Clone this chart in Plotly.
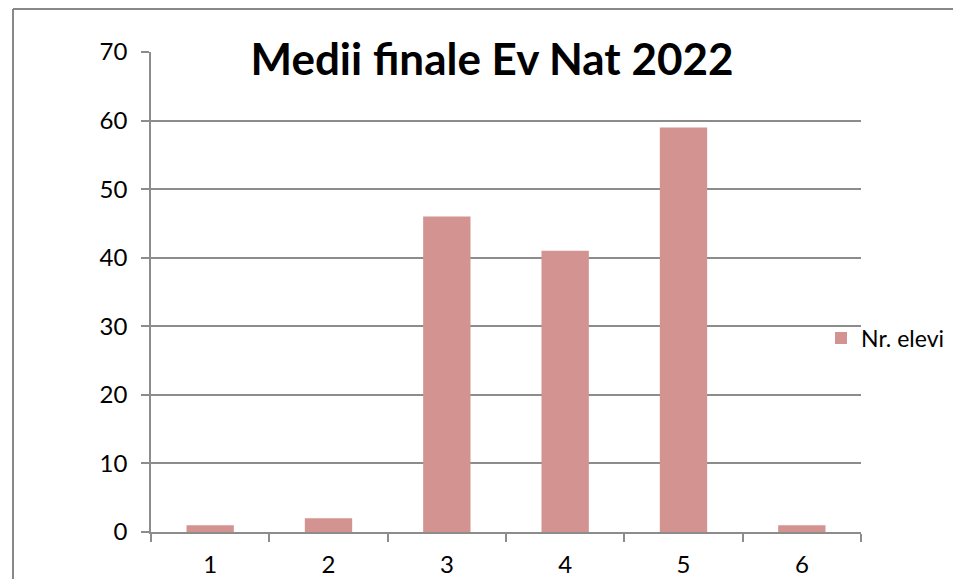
import plotly.graph_objects as go

categories = ["1", "2", "3", "4", "5", "6"]
nr_elevi = [1, 2, 46, 41, 59, 1]
y_ticks = [0, 10, 20, 30, 40, 50, 60, 70]

FONT = "Lato"
GRAY = "#8c8c8c"

fig = go.Figure()
fig.add_trace(go.Bar(x=categories, y=nr_elevi, name="Nr. elevi",
                     marker=dict(color="#d29391", line=dict(width=0))))

L, R, T, B = 151, 92, 52, 47
W, H = 953, 579
pw, ph = W - L - R, H - T - B

def px_x(x):
    return (x - L) / pw

def px_y(y):
    return (H - B - y) / ph

fig.update_layout(
    width=W, height=H,
    margin=dict(l=L, r=R, t=T, b=B, autoexpand=False),
    paper_bgcolor="white", plot_bgcolor="white",
    font=dict(family=FONT, size=24, color="black"),
    bargap=0.6,
    showlegend=True,
    legend=dict(x=px_x(821), y=px_y(338), xanchor="left", yanchor="middle",
                font=dict(family=FONT, size=23), bgcolor="rgba(0,0,0,0)",
                itemwidth=30, tracegroupgap=0),
    title=dict(text="<b>Medii finale Ev Nat 2022</b>", x=px_x(492), xref="paper",
               xanchor="center", y=1 - 60 / H, yanchor="middle",
               font=dict(family=FONT, size=44, color="black")),
    xaxis=dict(type="category", tickson="boundaries", ticks="outside", ticklen=8,
               tickcolor=GRAY, tickwidth=1.5, showline=True, linecolor=GRAY, linewidth=1.5,
               showgrid=False, ticklabelstandoff=10, range=[-0.5, 5.5],
               tickfont=dict(family=FONT, size=24)),
    yaxis=dict(range=[0, 70], tickvals=y_ticks, ticks="outside", ticklen=8,
               tickcolor=GRAY, tickwidth=1.5, showline=True, linecolor=GRAY, linewidth=1.5,
               showgrid=True, gridcolor=GRAY, gridwidth=1.5, zeroline=False,
               ticklabelstandoff=9, tickfont=dict(family=FONT, size=24)),
    shapes=[
        dict(type="line", xref="paper", yref="paper", x0=px_x(13), x1=px_x(W + 5),
             y0=px_y(9), y1=px_y(9), line=dict(color="#888888", width=2)),
        dict(type="line", xref="paper", yref="paper", x0=px_x(13), x1=px_x(13),
             y0=px_y(9), y1=px_y(H + 5), line=dict(color="#888888", width=2)),
    ],
)

fig.write_html("out.html", config={"displayModeBar": False},
               post_script="document.body.style.margin='0';document.body.style.overflow='hidden';")
